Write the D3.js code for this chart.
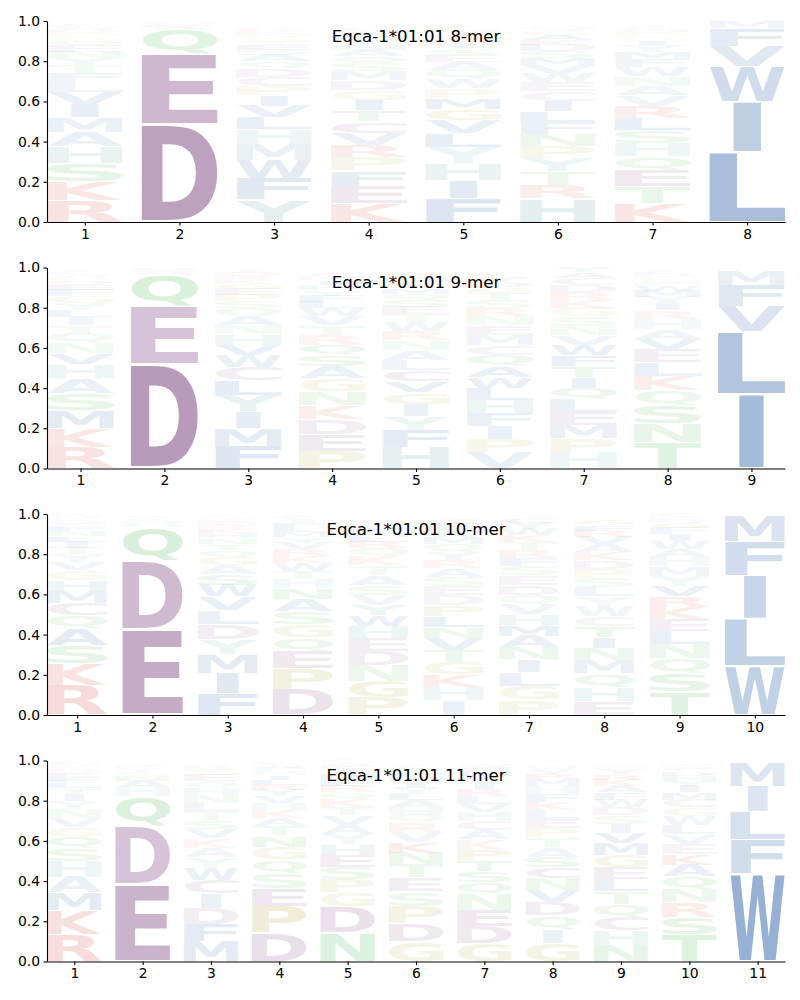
<!DOCTYPE html>
<html><head><meta charset="utf-8">
<script src="https://cdn.jsdelivr.net/npm/d3@7"></script>
<style>body{margin:0;background:#fff}</style></head>
<body><svg id="c" width="800" height="1000"></svg>
<script>
const titles = ["Eqca-1*01:01 8-mer","Eqca-1*01:01 9-mer","Eqca-1*01:01 10-mer","Eqca-1*01:01 11-mer"];
const yTicks = [0,0.2,0.4,0.6,0.8,1.0];

const logo8 = [
 [["R",.11],["K",.092],["S",.09],["H",.083],["A",.072],["M",.072],["I",.066],["V",.062],["L",.05],["F",.045],["T",.04],["Y",.035],["N",.03],["E",.03],["Q",.025],["G",.02],["P",.02],["D",.018],["W",.012],["C",.01]],
 [["D",.485],["E",.35],["Q",.12],["A",.012],["K",.01],["S",.01],["N",.008]],
 [["Y",.11],["F",.105],["W",.092],["M",.078],["H",.075],["L",.06],["V",.058],["I",.052],["P",.046],["C",.045],["D",.042],["Q",.035],["A",.03],["S",.025],["E",.025],["T",.02],["G",.02],["N",.015],["K",.015],["R",.012]],
 [["K",.095],["E",.085],["F",.075],["P",.065],["R",.062],["V",.06],["C",.058],["T",.055],["I",.052],["G",.05],["D",.048],["M",.045],["S",.04],["Q",.035],["A",.032],["N",.028],["Y",.025],["H",.022],["W",.018],["L",.015]],
 [["F",.118],["I",.09],["H",.083],["Y",.08],["L",.068],["V",.066],["G",.055],["M",.054],["P",.05],["W",.048],["Q",.045],["A",.04],["E",.035],["S",.03],["T",.025],["D",.025],["K",.02],["R",.015],["N",.015],["C",.01]],
 [["H",.116],["R",.068],["T",.066],["Y",.064],["P",.062],["N",.06],["F",.058],["L",.055],["I",.052],["C",.048],["E",.046],["W",.044],["V",.04],["M",.035],["S",.035],["D",.03],["K",.028],["A",.025],["G",.022],["Q",.02]],
 [["K",.095],["T",.083],["E",.08],["Q",.068],["H",.066],["S",.064],["L",.062],["R",.06],["V",.05],["A",.05],["N",.048],["W",.045],["F",.038],["M",.036],["Y",.03],["I",.025],["G",.02],["P",.02],["D",.018],["C",.015]],
 [["L",.35],["I",.25],["W",.175],["V",.1],["F",.088],["M",.03]]
];
const logo9 = [
 [["R",.105],["K",.093],["M",.09],["S",.086],["A",.075],["H",.07],["V",.056],["N",.05],["Q",.045],["T",.042],["I",.04],["L",.035],["Y",.035],["G",.035],["F",.032],["E",.025],["D",.02],["P",.02],["W",.015],["C",.01]],
 [["D",.517],["E",.29],["Q",.16],["A",.01],["N",.008],["S",.007],["H",.005]],
 [["F",.111],["M",.088],["I",.083],["Y",.082],["L",.072],["C",.066],["W",.06],["V",.053],["H",.052],["N",.045],["A",.044],["Q",.04],["S",.035],["P",.03],["E",.03],["G",.025],["K",.02],["R",.02],["D",.02],["T",.015]],
 [["P",.086],["E",.083],["D",.076],["K",.07],["N",.066],["G",.065],["A",.062],["S",.055],["Q",.052],["R",.05],["T",.048],["V",.045],["W",.04],["L",.032],["F",.03],["Y",.028],["H",.025],["I",.022],["M",.02],["C",.015]],
 [["H",.105],["F",.085],["Y",.07],["I",.06],["G",.058],["V",.056],["C",.054],["L",.05],["A",.05],["N",.048],["R",.045],["W",.045],["T",.04],["E",.038],["S",.035],["Q",.03],["M",.028],["P",.025],["D",.025],["K",.02]],
 [["V",.078],["P",.068],["I",.066],["F",.065],["H",.064],["L",.058],["W",.055],["A",.055],["Q",.055],["C",.05],["M",.05],["E",.048],["N",.046],["R",.04],["S",.038],["T",.035],["G",.03],["D",.028],["Y",.025],["K",.02]],
 [["H",.08],["P",.07],["M",.066],["E",.065],["L",.064],["Q",.056],["I",.055],["T",.054],["F",.053],["W",.052],["V",.048],["N",.046],["S",.046],["G",.045],["K",.04],["R",.038],["D",.035],["C",.032],["A",.03],["Y",.027]],
 [["T",.128],["N",.093],["S",.092],["Q",.075],["K",.073],["L",.066],["E",.065],["V",.052],["A",.05],["H",.05],["R",.043],["I",.035],["Y",.03],["M",.03],["W",.025],["F",.02],["G",.015],["P",.015],["D",.012],["C",.01]],
 [["I",.37],["L",.31],["V",.127],["F",.105],["M",.075]]
];
const logo10 = [
 [["R",.145],["K",.11],["S",.092],["A",.083],["Q",.066],["C",.06],["M",.058],["H",.056],["G",.05],["V",.042],["Y",.038],["T",.032],["I",.03],["L",.028],["N",.025],["F",.022],["E",.02],["D",.015],["P",.015],["W",.01]],
 [["E",.425],["D",.343],["Q",.165],["H",.015],["N",.012],["S",.01],["T",.008],["A",.008],["K",.007]],
 [["F",.108],["I",.1],["M",.096],["Y",.075],["D",.074],["L",.07],["V",.066],["W",.058],["S",.054],["A",.045],["G",.04],["Q",.035],["T",.03],["N",.028],["H",.025],["K",.022],["R",.02],["E",.02],["P",.015],["C",.012]],
 [["D",.125],["P",.105],["E",.088],["Q",.068],["G",.065],["S",.063],["A",.06],["N",.055],["H",.045],["T",.042],["W",.04],["K",.036],["R",.033],["V",.03],["Y",.028],["M",.025],["L",.025],["F",.022],["I",.02],["C",.015]],
 [["P",.085],["G",.082],["N",.08],["D",.072],["E",.064],["H",.058],["W",.054],["Y",.052],["V",.05],["S",.05],["A",.048],["T",.048],["K",.045],["Q",.04],["R",.03],["L",.028],["M",.025],["F",.022],["I",.02],["C",.015]],
 [["I",.075],["H",.064],["K",.063],["G",.062],["T",.06],["V",.058],["N",.056],["L",.054],["P",.052],["D",.05],["E",.048],["S",.045],["A",.043],["R",.04],["Y",.04],["Q",.038],["M",.035],["W",.035],["F",.03],["C",.025]],
 [["P",.075],["G",.07],["L",.068],["I",.062],["N",.06],["A",.058],["M",.055],["H",.052],["V",.05],["Q",.048],["D",.048],["E",.047],["S",.045],["F",.043],["R",.04],["T",.037],["K",.035],["W",.033],["Y",.03],["C",.025]],
 [["E",.07],["H",.069],["Q",.067],["M",.066],["N",.06],["I",.056],["T",.054],["C",.05],["W",.05],["Y",.048],["L",.046],["S",.045],["P",.044],["D",.043],["K",.04],["A",.04],["V",.038],["R",.03],["F",.028],["G",.025]],
 [["T",.117],["S",.09],["Q",.075],["N",.07],["L",.064],["E",.06],["K",.058],["R",.055],["V",.052],["Y",.05],["M",.048],["H",.045],["A",.042],["W",.038],["I",.035],["F",.03],["G",.025],["D",.02],["P",.015],["C",.01]],
 [["W",.245],["L",.235],["I",.215],["F",.17],["M",.13]]
];
const logo11 = [
 [["R",.135],["K",.118],["M",.088],["A",.08],["H",.078],["S",.066],["Q",.055],["G",.048],["V",.046],["N",.045],["Y",.04],["I",.035],["T",.03],["L",.028],["F",.025],["E",.022],["D",.02],["P",.015],["W",.01],["C",.01]],
 [["E",.383],["D",.29],["Q",.148],["H",.045],["A",.03],["N",.025],["S",.02],["T",.015],["K",.012],["V",.01],["Y",.008]],
 [["M",.1],["F",.085],["D",.078],["I",.076],["C",.066],["W",.061],["Y",.05],["A",.048],["K",.048],["V",.046],["S",.044],["T",.044],["L",.042],["N",.04],["H",.036],["Q",.034],["E",.03],["G",.02],["P",.015],["R",.012]],
 [["D",.14],["P",.133],["E",.09],["S",.078],["Q",.065],["G",.064],["N",.056],["T",.045],["A",.042],["K",.04],["H",.035],["V",.033],["Y",.03],["R",.028],["L",.025],["I",.022],["M",.02],["F",.018],["W",.015],["C",.012]],
 [["N",.144],["D",.128],["G",.07],["P",.066],["S",.062],["E",.06],["H",.052],["Y",.05],["A",.048],["V",.046],["T",.042],["K",.04],["Q",.035],["R",.032],["L",.03],["M",.028],["I",.025],["F",.02],["W",.015],["C",.01]],
 [["G",.1],["D",.09],["P",.085],["S",.072],["E",.07],["T",.065],["N",.058],["K",.055],["V",.05],["R",.045],["Q",.04],["H",.038],["A",.035],["L",.032],["Y",.03],["I",.028],["M",.025],["F",.022],["W",.02],["C",.015]],
 [["G",.09],["D",.085],["E",.082],["N",.08],["Q",.058],["S",.055],["T",.054],["P",.052],["K",.05],["A",.048],["C",.046],["H",.044],["V",.04],["L",.04],["R",.036],["I",.032],["Y",.03],["M",.025],["F",.018],["W",.015]],
 [["G",.09],["I",.07],["Q",.068],["D",.066],["V",.06],["N",.058],["C",.056],["S",.052],["A",.05],["T",.048],["P",.046],["E",.045],["L",.044],["K",.04],["F",.04],["H",.038],["M",.034],["R",.025],["Y",.022],["W",.018]],
 [["N",.083],["H",.07],["C",.066],["Q",.065],["T",.064],["L",.062],["E",.06],["G",.06],["M",.058],["V",.052],["I",.045],["S",.042],["D",.04],["W",.038],["F",.035],["A",.032],["K",.03],["R",.028],["Y",.025],["P",.02]],
 [["T",.133],["S",.086],["R",.075],["N",.064],["Q",.063],["A",.058],["K",.055],["E",.05],["V",.048],["L",.046],["W",.045],["G",.042],["C",.04],["M",.036],["I",.03],["Y",.028],["H",.025],["D",.022],["F",.02],["P",.015]],
 [["W",.435],["F",.17],["L",.14],["I",.125],["M",.12]]
];
const panels = [logo8, logo9, logo10, logo11];

const groups = {A:"hyd",F:"hyd",I:"hyd",L:"hyd",M:"hyd",V:"hyd",W:"hyd",
  D:"acid",E:"acid",C:"acid",K:"base",R:"base",N:"pol",Q:"pol",S:"pol",T:"pol",
  G:"gp",P:"gp",H:"hy",Y:"hy"};
const colors = {hyd:"#285fa5",acid:"#875089",base:"#d6403a",pol:"#46b450",gp:"#aaa028",hy:"#509696"};

const FONT = "DejaVu Sans";
const cv = document.createElement("canvas").getContext("2d");
cv.font = `bold 100px '${FONT}'`;
const bcache = {};
function bounds(ch){
  if(!bcache[ch]){ const m = cv.measureText(ch);
    bcache[ch] = {l:m.actualBoundingBoxLeft, r:m.actualBoundingBoxRight, a:m.actualBoundingBoxAscent, d:m.actualBoundingBoxDescent}; }
  return bcache[ch];
}
const Eb = bounds("E"); const EW = Eb.l + Eb.r;

const svg = d3.select("#c");
const L = 47, R = 785, H = 201;
const tops = [21, 267.5, 514, 760.5];
const vpad = 0.04, width = 0.8;

panels.forEach((cols, pi) => {
  const n = cols.length;
  const top = tops[pi], bot = top + H;
  const x = d3.scaleLinear().domain([1 - width/2, n + width/2]).range([L, R]);
  const y = d3.scaleLinear().domain([0, 1]).range([bot, top]);
  const g = svg.append("g");

  cols.forEach((col, ci) => {
    const pos = ci + 1;
    const sorted = col.map((d,i)=>({c:d[0], v:d[1], i})).sort((a,b)=> b.v - a.v || a.i - b.i);
    let cum = 0;
    sorted.forEach(d => {
      const y0 = cum, y1 = cum + d.v; cum = y1;
      const pad = d.v * vpad / 2;
      const by = y(y1 - pad), bh = y(y0 + pad) - y(y1 - pad);
      const bx = x(pos - width/2), bw = x(pos + width/2) - x(pos - width/2);
      const b = bounds(d.c);
      const gw = b.l + b.r, gh = b.a + b.d;
      const sx = Math.min(bw / gw, bw / EW);
      const sy = bh / gh;
      const ox = bx + (bw - gw*sx)/2;
      const alpha = Math.min(0.9, 0.035 + 1.05 * d.v);
      g.append("text").text(d.c)
        .attr("x", 0).attr("y", 0)
        .attr("font-family", FONT).attr("font-weight", "bold").attr("font-size", 100)
        .attr("fill", colors[groups[d.c]]).attr("fill-opacity", alpha)
        .attr("transform", `translate(${ox},${by}) scale(${sx},${sy}) translate(${b.l},${b.a})`);
    });
  });

  const xa = svg.append("g").attr("transform", `translate(0,${bot})`)
    .call(d3.axisBottom(x).tickValues(d3.range(1, n+1)).tickFormat(d3.format("d")).tickSize(3.5).tickSizeOuter(0).tickPadding(3.5));
  const ya = svg.append("g").attr("transform", `translate(${L},0)`)
    .call(d3.axisLeft(y).tickValues(yTicks).tickFormat(d3.format(".1f")).tickSize(3.5).tickSizeOuter(0).tickPadding(3.5));
  [xa, ya].forEach(a => {
    a.attr("font-family", FONT).attr("font-size", 13.9);
    a.selectAll("path, line").attr("stroke", "#000").attr("stroke-width", 1.1);
    a.selectAll("text").attr("fill", "#000");
  });

  svg.append("text").text(titles[pi])
    .attr("x", (L + R)/2).attr("y", top + 20.5)
    .attr("text-anchor", "middle").attr("font-family", FONT).attr("font-size", 16.67).attr("fill", "#000");
});
</script></body></html>
